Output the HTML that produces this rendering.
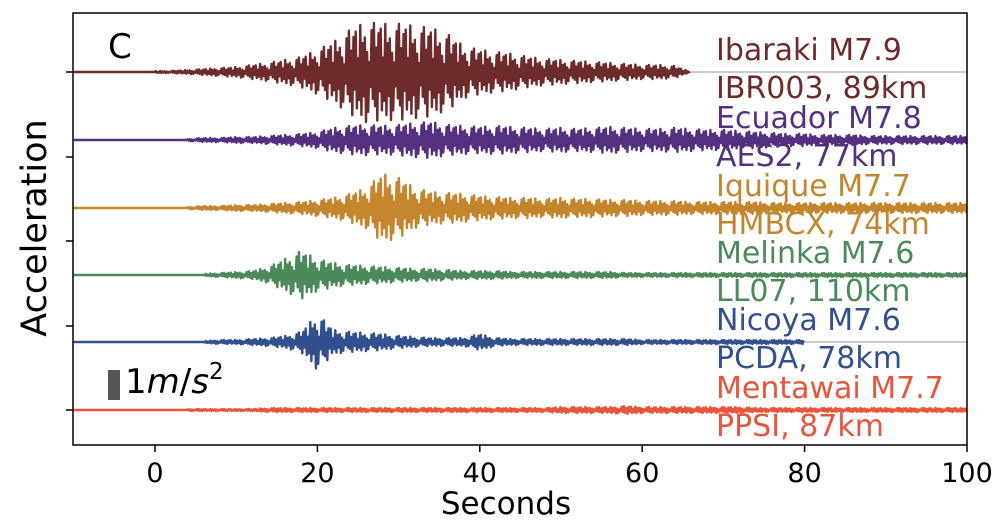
<!DOCTYPE html>
<html><head><meta charset="utf-8"><style>
body{margin:0;background:#fff;width:1000px;height:524px;overflow:hidden}
svg{font-family:"DejaVu Sans","Liberation Sans",sans-serif}
</style></head><body>
<svg id="chart" width="1000" height="524">
<g id="traces"></g>
<rect x="73" y="13" width="894" height="432" fill="none" stroke="#000" stroke-width="1.5"/>
<g id="axes"></g>
<text x="108" y="58" font-size="34">C</text>
<rect x="108" y="370" width="12" height="30" fill="#555"/>
<text x="125" y="393" font-size="34">1<tspan font-style="italic">m</tspan>/<tspan font-style="italic">s</tspan><tspan dy="-14" font-size="23">2</tspan></text>
<text x="506" y="514" font-size="31" text-anchor="middle">Seconds</text>
<text transform="translate(46,228) rotate(-90)" font-size="35" text-anchor="middle">Acceleration</text>
<g id="labels"></g>
</svg>
<script>
const names=["Ibaraki M7.9","Ecuador M7.8","Iquique M7.7","Melinka M7.6","Nicoya M7.6","Mentawai M7.7"];
const stations=["IBR003, 89km","AES2, 77km","HMBCX, 74km","LL07, 110km","PCDA, 78km","PPSI, 87km"];
const colors=["#6e2b2b","#553080","#c4852c","#4c8a5a","#33508e","#e8553a"];
const startSec=[0,4,4,6,6,4];
const endSec=[66,100,100,100,80,100];
// envelope half-amplitudes (px) every 2 s from -10 to 100
const env0=[0,0,0,0,0,1,1,2,3,4,5,7,9,12,15,22,30,42,50,48,48,46,44,38,26,22,20,18,15,13,12,11,10,9,8,7,7,6,0,0,0,0,0,0,0,0,0,0,0,0,0,0,0,0,0,0];
const env1=[0,0,0,0,0,0,0,1,2,2,3,3,4,5,6,8,12,14,15,14,15,17,18,15,14,13,14,13,12,11,12,11,12,13,12,11,11,12,11,10,10,9,8,7,6,6,5,5,5,4,4,4,4,4,4,4];
const env2=[0,0,0,0,0,0,0,1,2,2,3,3,4,5,6,8,10,14,20,34,30,20,16,15,14,12,11,10,10,9,10,9,9,8,8,7,7,7,6,6,6,6,6,5,5,5,5,5,5,5,5,5,5,5,5,5];
const env3=[0,0,0,0,0,0,0,0,1,2,3,4,8,16,24,16,12,10,9,8,7,6,6,5,4,4,4,3,3,3,3,3,3,3,2,2,2,2,2,2,2,2,2,2,2,2,2,2,2,2,2,2,2,2,2,2];
const env4=[0,0,0,0,0,0,0,0,1,2,2,3,4,6,10,28,12,10,9,8,6,5,4,4,4,8,4,3,3,3,3,3,3,3,3,2,2,2,2,2,2,2,2,2,2,2,0,0,0,0,0,0,0,0,0,0];
const env5=[0,0,0,0,0,0,1,1,1,1,1,1,2,2,2,2,2,2,2,2,2,2,2,2,2,2,2,2,2,2,3,3,3,3,4,3,3,3,3,3,3,3,2,2,2,2,2,2,2,2,2,2,2,2,2,2];
const envs=[env0,env1,env2,env3,env4,env5];
const baselines=[72,140,208,275,342,410];
const xTicks=[0,20,40,60,80,100];
const yTickPx=[72,157,241,326,410];
const osc=[1,-0.7,0.5,-1,0.8,-0.4,0.9,-0.8,0.3,-0.6,1,-0.9,0.6,-0.5,0.7,-1,0.4,-0.8,0.2,-0.3,0.85,-0.55];
const X=s=>155+(s)*8.12;
const NS="http://www.w3.org/2000/svg";
const tg=document.getElementById('traces');
baselines.forEach((b,i)=>{
 const l=document.createElementNS(NS,'line');
 
 
 l.setAttribute('x1',X(-10));l.setAttribute('x2',X(100));l.setAttribute('y1',b);l.setAttribute('y2',b);
 l.setAttribute('stroke','#999');l.setAttribute('stroke-width','1');tg.appendChild(l);
});
envs.forEach((e,i)=>{
 let d='M'+X(-10)+','+baselines[i];let k=0;
 for(let s=-10;s<=endSec[i];s+=0.14){
  const idx=Math.min(e.length-1,Math.floor((s+10)/2));
  const f=(s+10)/2-idx;const a=e[idx]*(1-f)+(e[Math.min(e.length-1,idx+1)])*f;
  const v=s<startSec[i]?0:a*osc[k%osc.length];k++;
  d+=' L'+X(s).toFixed(1)+','+(baselines[i]-v).toFixed(1);
 }
 const p=document.createElementNS(NS,'path');
 
 
 p.setAttribute('d',d);p.setAttribute('fill','none');p.setAttribute('stroke',colors[i]);p.setAttribute('stroke-width','2.4');p.setAttribute('stroke-linejoin','round');
 tg.appendChild(p);
});
const ag=document.getElementById('axes');
xTicks.forEach(t=>{
 const l=document.createElementNS(NS,'line');
 
 
 l.setAttribute('x1',X(t));l.setAttribute('x2',X(t));l.setAttribute('y1',445);l.setAttribute('y2',452);l.setAttribute('stroke','#000');l.setAttribute('stroke-width','1.5');ag.appendChild(l);
 const tx=document.createElementNS(NS,'text');
 
 
 tx.setAttribute('x',X(t));tx.setAttribute('y',482);tx.setAttribute('font-size','27');tx.setAttribute('text-anchor','middle');tx.textContent=t;ag.appendChild(tx);
});
yTickPx.forEach(y=>{
 const l=document.createElementNS(NS,'line');
 
 
 l.setAttribute('x1',66);l.setAttribute('x2',73);l.setAttribute('y1',y);l.setAttribute('y2',y);l.setAttribute('stroke','#000');l.setAttribute('stroke-width','1.5');ag.appendChild(l);
});
const lg=document.getElementById('labels');
names.forEach((n,i)=>{
 [[n,baselines[i]-12],[stations[i],baselines[i]+26]].forEach((a,j)=>{
  const t=document.createElementNS(NS,'text');
  
  
  t.setAttribute('x',716);t.setAttribute('y',a[1]);t.setAttribute('font-size','30');t.setAttribute('fill',colors[i]);t.textContent=a[0];lg.appendChild(t);
 });
});
</script>
</body></html>
